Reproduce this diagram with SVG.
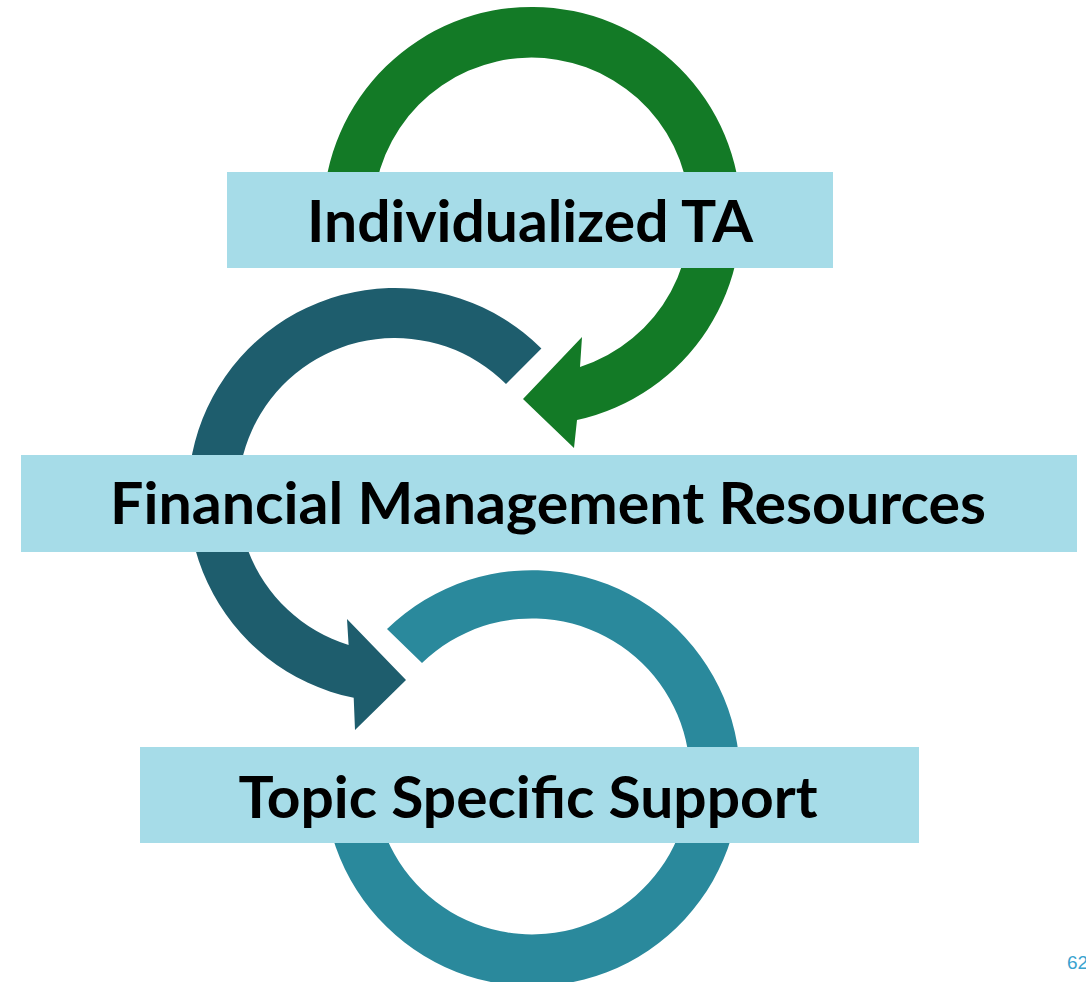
<svg xmlns="http://www.w3.org/2000/svg" width="1086" height="982" viewBox="0 0 1086 982">
<style>
.box{fill:#a6dce8}
.lbl{font-family:Lato,"Liberation Sans",sans-serif;font-weight:700;font-size:57px;fill:#000;text-anchor:middle}
.pg{font-family:"Liberation Sans",Arial,sans-serif;font-size:19px;fill:#3aa3cf}
</style>
<rect width="1086" height="982" fill="#fff"/>
<g id="connectors">
<path id="arrow-green" fill="#137a26" d="M326.2,252.3 A209,209 0 1 1 577,420 L574,448 L523,399 L582,337 L580,367 A158.5,158.5 0 1 0 375.4,243.6 Z"/>
<path id="arrow-dark" fill="#1e5d6d" d="M541.4,348.6 A207,207 0 1 0 353.7,697.8 L355,730 L406,680 L347,619 L348.6,645 A157,157 0 1 1 506,384 Z"/>
<path id="arrow-light" fill="#2a899c" d="M387,629 A208,208 0 1 1 324,777 L374,777 A158,158 0 1 0 422,663 Z"/>
</g>
<g id="node-individualized">
<rect class="box" x="227" y="172" width="606" height="96"/>
<text class="lbl" x="530" y="242" textLength="446" lengthAdjust="spacingAndGlyphs">Individualized TA</text>
</g>
<g id="node-financial">
<rect class="box" x="21" y="455" width="1056" height="97"/>
<text class="lbl" x="548" y="524" textLength="876" lengthAdjust="spacingAndGlyphs">Financial Management Resources</text>
</g>
<g id="node-topic">
<rect class="box" x="140" y="747" width="779" height="96"/>
<text class="lbl" x="528" y="818" textLength="579" lengthAdjust="spacingAndGlyphs">Topic Specific Support</text>
</g>
<text class="pg" x="1067" y="969">62</text>
</svg>
